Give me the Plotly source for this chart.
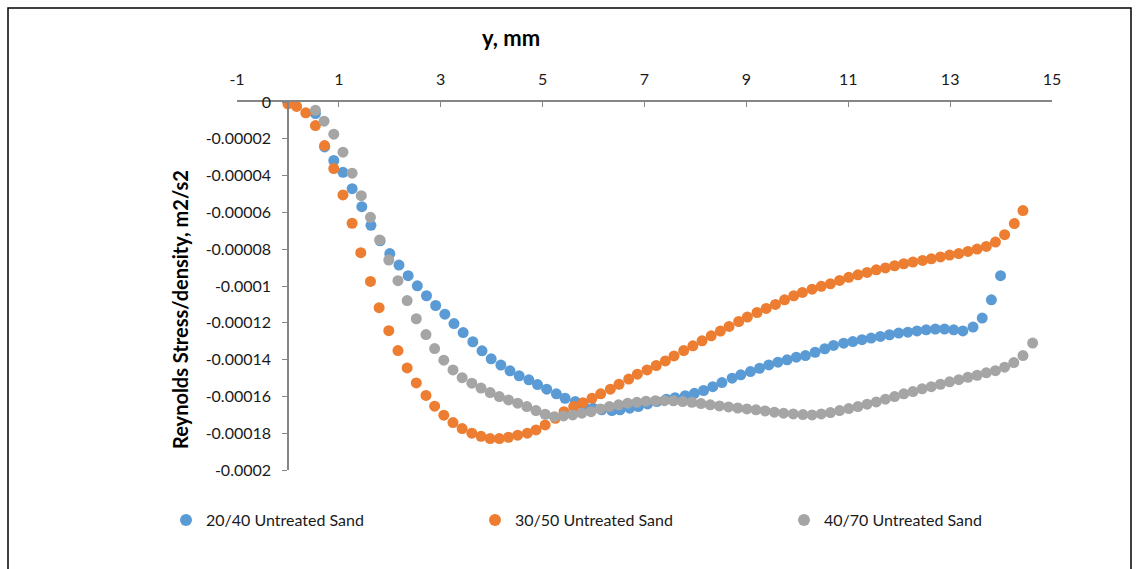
import plotly.graph_objects as go

# ---- data ----
x_2040 = [0.54, 0.72, 0.90, 1.08, 1.26, 1.45, 1.63, 1.81, 2.00, 2.18, 2.36, 2.54, 2.72, 2.90, 3.08,
          3.26, 3.44, 3.63, 3.81, 3.99, 4.18, 4.36, 4.54, 4.73, 4.90, 5.08, 5.27, 5.44, 5.64, 5.80,
          5.99, 6.16, 6.36, 6.52, 6.71, 6.88, 7.06, 7.24, 7.43, 7.60, 7.80, 7.98, 8.16, 8.34, 8.52,
          8.72, 8.89, 9.08, 9.26, 9.44, 9.62, 9.80, 9.98, 10.16, 10.35, 10.54, 10.71, 10.91, 11.09, 11.27,
          11.45, 11.63, 11.81, 11.99, 12.17, 12.35, 12.53, 12.71, 12.89, 13.07, 13.25, 13.45, 13.63, 13.81, 13.99]
y_2040 = [-6.3e-6, -24.4e-6, -31.8e-6, -38.2e-6, -47.1e-6, -56.9e-6, -67.0e-6, -75.4e-6, -82.4e-6, -88.6e-6,
          -94.4e-6, -99.9e-6, -105.3e-6, -110.6e-6, -115.3e-6, -120.4e-6, -125.3e-6, -130.3e-6, -135.2e-6, -139.6e-6,
          -143.0e-6, -146.1e-6, -148.8e-6, -151.0e-6, -153.6e-6, -156.1e-6, -158.6e-6, -161.0e-6, -162.8e-6, -164.6e-6,
          -166.4e-6, -167.3e-6, -167.7e-6, -167.3e-6, -166.4e-6, -165.5e-6, -164.1e-6, -162.8e-6, -161.5e-6, -160.7e-6,
          -159.6e-6, -158.3e-6, -156.8e-6, -154.7e-6, -152.5e-6, -150.1e-6, -148.3e-6, -146.5e-6, -144.7e-6, -142.9e-6,
          -141.4e-6, -140.1e-6, -138.7e-6, -137.8e-6, -136.0e-6, -134.1e-6, -132.3e-6, -131.1e-6, -130.2e-6, -129.2e-6,
          -128.3e-6, -127.4e-6, -126.5e-6, -125.6e-6, -125.1e-6, -124.4e-6, -123.8e-6, -123.4e-6, -123.4e-6, -123.8e-6,
          -124.4e-6, -122.3e-6, -117.4e-6, -107.5e-6, -94.4e-6]

x_3050 = [0.00, 0.17, 0.35, 0.54, 0.72, 0.90, 1.08, 1.26, 1.43, 1.62, 1.79, 1.98, 2.16, 2.34, 2.52,
          2.71, 2.88, 3.06, 3.24, 3.42, 3.61, 3.79, 3.97, 4.15, 4.33, 4.51, 4.70, 4.87, 5.05, 5.25,
          5.42, 5.61, 5.79, 5.97, 6.14, 6.33, 6.50, 6.69, 6.86, 7.05, 7.23, 7.41, 7.58, 7.77, 7.95,
          8.13, 8.31, 8.49, 8.66, 8.85, 9.02, 9.21, 9.39, 9.57, 9.75, 9.93, 10.10, 10.29, 10.47, 10.65,
          10.83, 11.01, 11.19, 11.37, 11.55, 11.73, 11.91, 12.09, 12.27, 12.46, 12.63, 12.81, 12.99, 13.17, 13.35,
          13.53, 13.71, 13.89, 14.07, 14.26, 14.43]
y_3050 = [-1.0e-6, -2.4e-6, -5.9e-6, -12.8e-6, -23.7e-6, -36.2e-6, -50.5e-6, -65.9e-6, -81.9e-6, -97.5e-6,
          -111.8e-6, -124.3e-6, -135.1e-6, -144.5e-6, -152.7e-6, -159.5e-6, -165.3e-6, -170.2e-6, -174.2e-6, -177.5e-6,
          -180.0e-6, -181.7e-6, -182.9e-6, -182.9e-6, -182.2e-6, -181.1e-6, -180.0e-6, -178.2e-6, -175.5e-6, -171.9e-6,
          -168.3e-6, -165.5e-6, -163.4e-6, -161.0e-6, -158.6e-6, -156.1e-6, -153.4e-6, -150.6e-6, -147.9e-6, -145.6e-6,
          -143.2e-6, -140.7e-6, -138.0e-6, -135.1e-6, -132.5e-6, -129.8e-6, -127.1e-6, -124.5e-6, -122.0e-6, -119.3e-6,
          -116.9e-6, -114.4e-6, -112.2e-6, -110.0e-6, -107.5e-6, -105.3e-6, -103.5e-6, -101.7e-6, -100.2e-6, -98.8e-6,
          -97.0e-6, -95.3e-6, -93.9e-6, -92.6e-6, -91.2e-6, -90.2e-6, -89.0e-6, -87.9e-6, -87.0e-6, -86.1e-6,
          -85.2e-6, -84.2e-6, -83.2e-6, -82.4e-6, -81.2e-6, -79.9e-6, -78.5e-6, -76.1e-6, -72.1e-6, -66.1e-6,
          -59.0e-6]

x_4070 = [0.54, 0.71, 0.90, 1.08, 1.26, 1.44, 1.62, 1.80, 1.98, 2.16, 2.34, 2.52, 2.71, 2.88, 3.06,
          3.24, 3.42, 3.61, 3.79, 3.97, 4.15, 4.33, 4.51, 4.69, 4.87, 5.05, 5.23, 5.41, 5.59, 5.77,
          5.95, 6.13, 6.31, 6.49, 6.67, 6.85, 7.03, 7.21, 7.39, 7.57, 7.75, 7.93, 8.11, 8.29, 8.47,
          8.65, 8.83, 9.01, 9.19, 9.37, 9.55, 9.73, 9.92, 10.11, 10.29, 10.47, 10.65, 10.83, 11.01, 11.19,
          11.37, 11.55, 11.73, 11.91, 12.09, 12.27, 12.45, 12.63, 12.81, 12.99, 13.17, 13.35, 13.53, 13.71, 13.89,
          14.07, 14.25, 14.43, 14.62]
y_4070 = [-4.5e-6, -10.4e-6, -17.5e-6, -27.3e-6, -38.7e-6, -50.9e-6, -62.7e-6, -75.0e-6, -85.9e-6, -97.1e-6,
          -107.9e-6, -117.8e-6, -126.4e-6, -134.0e-6, -140.3e-6, -145.6e-6, -149.8e-6, -152.8e-6, -155.5e-6, -157.9e-6,
          -160.1e-6, -161.9e-6, -163.7e-6, -165.5e-6, -167.7e-6, -169.7e-6, -171.0e-6, -170.6e-6, -170.1e-6, -169.1e-6,
          -168.3e-6, -166.8e-6, -165.5e-6, -164.6e-6, -163.7e-6, -163.2e-6, -162.6e-6, -162.4e-6, -162.3e-6, -162.4e-6,
          -162.8e-6, -163.2e-6, -163.9e-6, -164.6e-6, -165.2e-6, -165.7e-6, -166.3e-6, -166.8e-6, -167.3e-6, -167.9e-6,
          -168.6e-6, -169.1e-6, -169.5e-6, -169.9e-6, -170.1e-6, -169.5e-6, -168.8e-6, -167.7e-6, -166.6e-6, -165.5e-6,
          -164.2e-6, -163.0e-6, -161.5e-6, -160.1e-6, -158.6e-6, -157.4e-6, -155.9e-6, -154.7e-6, -153.4e-6, -152.1e-6,
          -150.9e-6, -149.6e-6, -148.5e-6, -147.2e-6, -146.0e-6, -144.1e-6, -141.6e-6, -137.8e-6, -131.0e-6]

series_names = ["20/40 Untreated Sand", "30/50 Untreated Sand", "40/70 Untreated Sand"]
series_colors = ["#5B9BD5", "#ED7D31", "#A5A5A5"]

x_tickvals = [-1, 1, 3, 5, 7, 9, 11, 13, 15]
x_ticktext = ["-1", "1", "3", "5", "7", "9", "11", "13", "15"]
y_tickvals = [0, -0.00002, -0.00004, -0.00006, -0.00008, -0.0001, -0.00012, -0.00014, -0.00016, -0.00018, -0.0002]
y_ticktext = ["0", "-0.00002", "-0.00004", "-0.00006", "-0.00008", "-0.0001", "-0.00012", "-0.00014",
              "-0.00016", "-0.00018", "-0.0002"]

FONT = "Lato"
AXIS_COLOR = "#868686"
TEXT_COLOR = "#1a1a1a"

fig = go.Figure()
for xs, ys, name, color in zip([x_2040, x_3050, x_4070], [y_2040, y_3050, y_4070], series_names, series_colors):
    fig.add_trace(go.Scatter(x=xs, y=ys, mode="markers", name=name,
                             marker=dict(color=color, size=11, line=dict(width=0))))

# pixel layout helpers
W, H = 1139, 569
L, R, T, B = 237, 1139 - 1052, 102, 569 - 470
pw, ph = W - L - R, H - T - B


def px_x(p):
    return (p - L) / pw


def px_y(p):
    return (H - B - p) / ph


fig.update_layout(
    width=W, height=H,
    margin=dict(l=L, r=R, t=T, b=B),
    paper_bgcolor="white", plot_bgcolor="white",
    font=dict(family=FONT, size=16, color=TEXT_COLOR),
    showlegend=True,
    legend=dict(orientation="h", x=px_x(166), xanchor="left", y=px_y(520), yanchor="middle",
                entrywidth=264, entrywidthmode="pixels", font=dict(size=16, color=TEXT_COLOR),
                itemsizing="constant", bgcolor="rgba(0,0,0,0)"),
    xaxis=dict(range=[-1, 15], side="top", tickvals=x_tickvals, ticktext=x_ticktext,
               showgrid=False, zeroline=False, showline=True, linecolor=AXIS_COLOR, linewidth=1.5,
               ticks="inside", ticklen=5, tickcolor=AXIS_COLOR, tickwidth=1,
               ticklabelstandoff=9, tickfont=dict(size=16, color=TEXT_COLOR)),
    yaxis=dict(range=[-0.0002, 0], anchor="free", position=px_x(288), tickvals=y_tickvals,
               ticktext=y_ticktext, showgrid=False, zeroline=False, showline=True,
               linecolor=AXIS_COLOR, linewidth=1.5, ticks="outside", ticklen=5, tickcolor=AXIS_COLOR,
               tickwidth=1, ticklabelstandoff=8, tickfont=dict(size=16, color=TEXT_COLOR)),
    annotations=[
        dict(text="<b>y, mm</b>", xref="paper", yref="paper", x=px_x(511), y=px_y(37),
             showarrow=False, font=dict(size=22, color="#000000", family=FONT),
             xanchor="center", yanchor="middle"),
        dict(text="<b>Reynolds Stress/density, m2/s2</b>", xref="paper", yref="paper",
             x=px_x(180), y=px_y(310), textangle=-90, showarrow=False,
             font=dict(size=20, color="#000000", family=FONT), xanchor="center", yanchor="middle"),
    ],
    shapes=[
        dict(type="rect", xref="paper", yref="paper", x0=px_x(8), x1=px_x(1131), y0=px_y(578), y1=px_y(8),
             line=dict(color="#000000", width=1.5), fillcolor="rgba(0,0,0,0)", layer="below"),
    ],
)

fig.write_html("out.html")
